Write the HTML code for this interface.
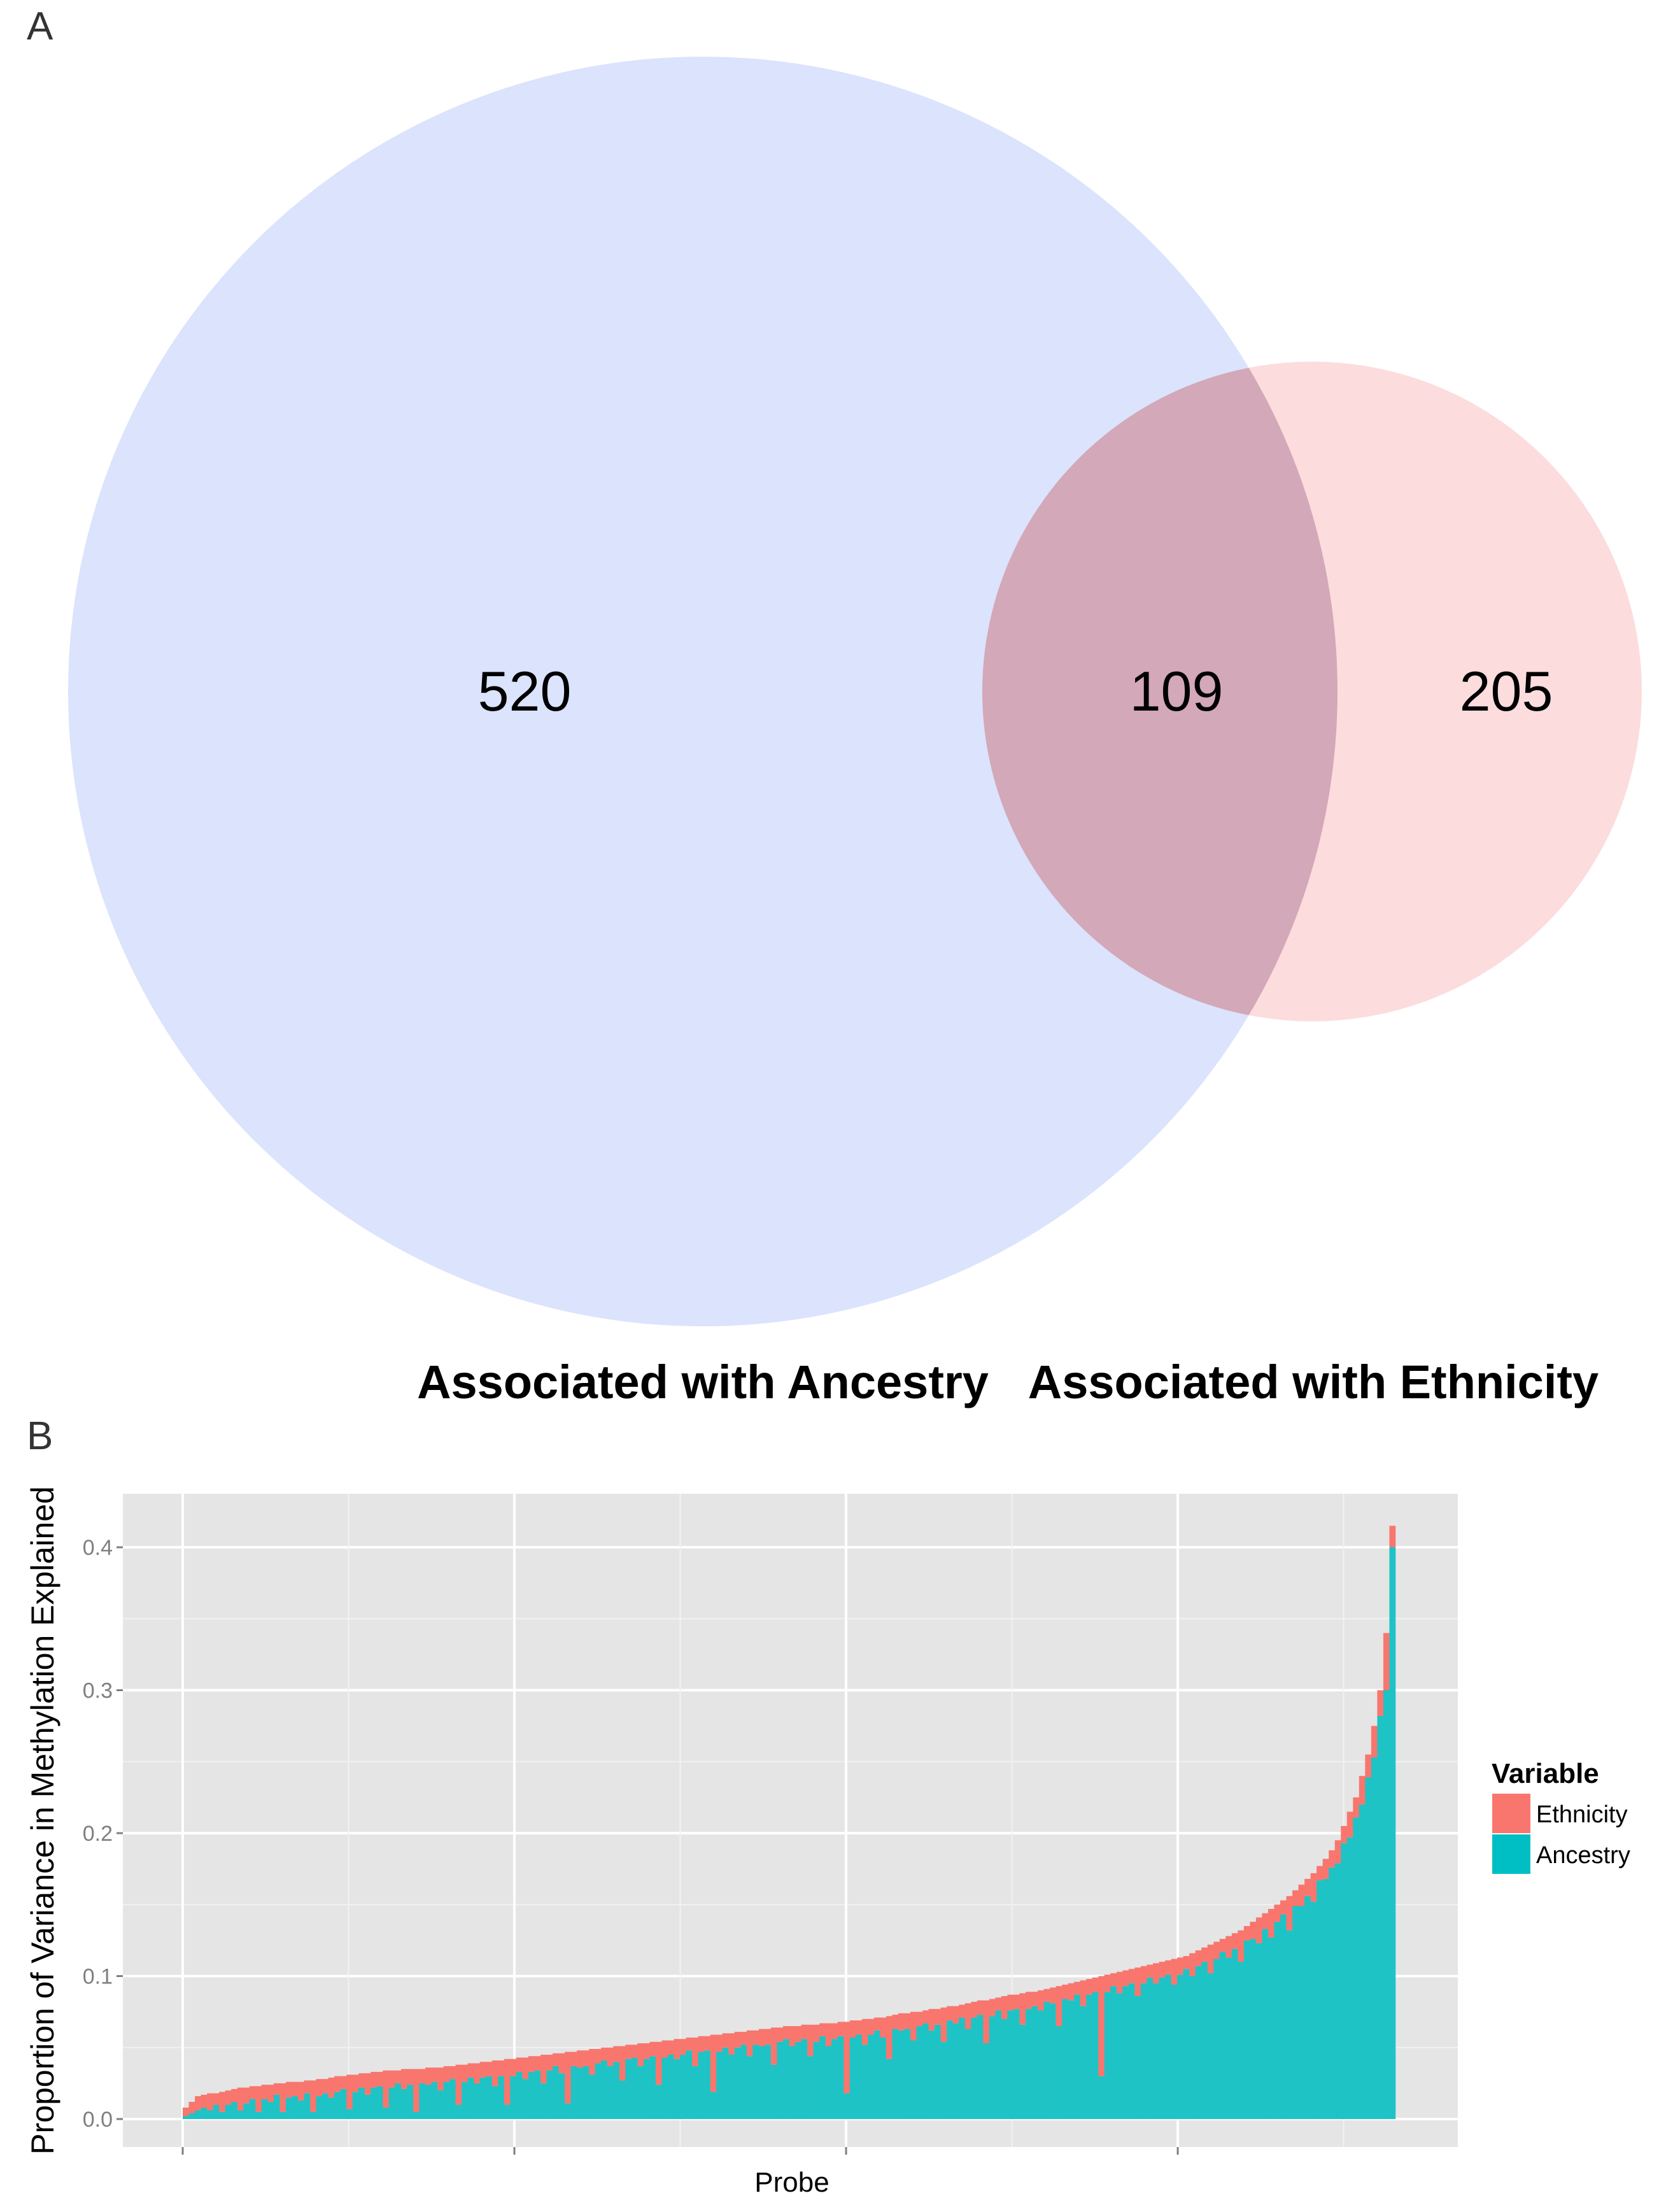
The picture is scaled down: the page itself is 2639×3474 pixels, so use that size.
<!DOCTYPE html>
<html><head><meta charset="utf-8"><style>
html,body{margin:0;padding:0;background:#fff}
svg{display:block}
text{font-family:"Liberation Sans",sans-serif}
</style></head><body>
<svg id="fig" width="2639" height="3474" viewBox="0 0 2639 3474">
<g>
<text x="42" y="62" font-size="62" fill="#333">A</text>
<defs><clipPath id="pinkclip"><circle cx="2061" cy="1086" r="518"/></clipPath></defs>
<circle cx="1104" cy="1086" r="997" fill="#dbe3fd"/>
<circle cx="2061" cy="1086" r="518" fill="#fcdcdd"/>
<circle cx="1104" cy="1086" r="997" fill="#d3a8b8" clip-path="url(#pinkclip)"/>
<text x="824" y="1116" font-size="88" text-anchor="middle" fill="#000">520</text>
<text x="1848" y="1116" font-size="88" text-anchor="middle" fill="#000">109</text>
<text x="2366" y="1116" font-size="88" text-anchor="middle" fill="#000">205</text>
<text x="1104" y="2196" font-size="74" font-weight="bold" text-anchor="middle" fill="#000">Associated with Ancestry</text>
<text x="2063" y="2196" font-size="74" font-weight="bold" text-anchor="middle" fill="#000">Associated with Ethnicity</text>
</g>
<g id="chartB">
<text x="42" y="2276" font-size="62" fill="#333">B</text>
<rect x="193" y="2346" width="2097" height="1026" fill="#e5e5e5"/>
<g id="grid"></g>
<g id="bars"></g>
<g id="axes"></g>
<text x="1244" y="3442" font-size="44" text-anchor="middle" fill="#000">Probe</text>
<text transform="translate(84,2859) rotate(-90)" font-size="50" text-anchor="middle" fill="#000">Proportion of Variance in Methylation Explained</text>
<g>
<text x="2343" y="2800" font-size="44" font-weight="bold" fill="#000">Variable</text>
<rect x="2344" y="2817" width="60" height="62" fill="#F8766D"/>
<text x="2413" y="2862" font-size="38" fill="#000">Ethnicity</text>
<rect x="2344" y="2881" width="60" height="62" fill="#00BFC4"/>
<text x="2413" y="2926" font-size="38" fill="#000">Ancestry</text>
</g>
</g>
</svg>
<script>
const yTicks=[0,0.1,0.2,0.3,0.4];
const yTickLabels=["0.0","0.1","0.2","0.3","0.4"];
const xTickProbes=[0,54.7,109.4,164.1];
const totalVar=[.008,.012,.016,.017,.018,.018,.019,.020,.021,.022,
.022,.023,.023,.024,.024,.025,.025,.026,.026,.026,
.027,.027,.028,.028,.029,.030,.030,.031,.031,.032,
.032,.033,.033,.034,.034,.034,.035,.035,.035,.035,
.036,.036,.036,.037,.037,.038,.038,.039,.039,.040,
.040,.041,.041,.042,.042,.043,.043,.044,.044,.045,
.045,.046,.046,.047,.047,.048,.048,.049,.049,.050,
.050,.051,.051,.052,.052,.053,.053,.054,.054,.055,
.055,.056,.056,.057,.057,.058,.058,.059,.059,.060,
.060,.061,.061,.062,.062,.063,.063,.064,.064,.065,
.065,.065,.066,.066,.066,.067,.067,.067,.068,.068,
.069,.069,.070,.070,.071,.071,.072,.073,.074,.074,
.075,.075,.076,.077,.077,.078,.079,.079,.080,.081,
.082,.083,.083,.084,.085,.086,.087,.087,.088,.089,
.089,.090,.091,.092,.093,.094,.095,.096,.097,.098,
.099,.100,.101,.102,.103,.104,.105,.106,.107,.108,
.109,.110,.111,.112,.113,.114,.116,.118,.120,.122,
.124,.126,.128,.130,.132,.135,.138,.141,.144,.147,
.150,.153,.156,.160,.164,.168,.172,.177,.182,.188,
.195,.205,.215,.225,.240,.255,.275,.300,.340,.415];
const ethnicityVar=[.006,.008,.010,.009,.012,.008,.014,.010,.009,.016,
.011,.009,.018,.010,.012,.008,.020,.011,.010,.013,
.009,.022,.012,.010,.014,.011,.009,.024,.012,.010,
.015,.011,.010,.026,.012,.009,.014,.011,.030,.010,
.012,.010,.016,.011,.009,.028,.012,.010,.014,.011,
.010,.018,.011,.032,.012,.010,.015,.011,.010,.020,
.011,.009,.014,.036,.010,.012,.011,.018,.010,.009,
.013,.011,.024,.010,.009,.016,.011,.010,.030,.012,
.010,.014,.011,.009,.020,.011,.010,.040,.012,.010,
.015,.011,.009,.018,.010,.012,.011,.026,.010,.009,
.014,.011,.010,.022,.012,.009,.016,.011,.010,.050,
.012,.010,.018,.011,.009,.014,.030,.010,.012,.011,
.020,.010,.009,.015,.011,.024,.010,.012,.009,.018,
.011,.010,.030,.012,.009,.016,.011,.010,.022,.012,
.010,.014,.009,.011,.028,.010,.012,.009,.018,.011,
.010,.070,.012,.009,.015,.011,.010,.020,.012,.009,
.014,.011,.010,.018,.012,.009,.016,.011,.010,.020,
.012,.009,.015,.011,.022,.010,.012,.018,.011,.020,
.012,.010,.024,.011,.015,.012,.020,.010,.014,.012,
.016,.012,.018,.014,.020,.016,.022,.018,.040,.015];
const NS='http://www.w3.org/2000/svg';
const px0=193,px1=2290,py0=2346,py1=3372;
const barStart=287,barEnd=2192;
const n=totalVar.length,bw=(barEnd-barStart)/n;
function ys(v){return 3328-v*2245;}
function xs(i){return barStart+bw*i;}
function mk(tag,attrs,parent){const e=document.createElementNS(NS,tag);for(const k in attrs)e.setAttribute(k,attrs[k]);parent.appendChild(e);return e;}
const grid=document.getElementById('grid'),bars=document.getElementById('bars'),axes=document.getElementById('axes');
for(let k=0;k<yTicks.length;k++){
  if(k<yTicks.length-1){const ym=ys((yTicks[k]+yTicks[k+1])/2);
    const m=mk('line',{x1:px0,x2:px1,y1:ym,y2:ym,stroke:'#f2f2f2','stroke-width':2},grid);
    
    }
  const y=ys(yTicks[k]);
  const g=mk('line',{x1:px0,x2:px1,y1:y,y2:y,stroke:'#fff','stroke-width':4},grid);
  
  
  const t=mk('line',{x1:px0-10,x2:px0,y1:y,y2:y,stroke:'#7f7f7f','stroke-width':3},axes);
  
  
  const l=mk('text',{x:px0-16,y:y+12,'font-size':34,'text-anchor':'end',fill:'#7f7f7f'},axes);
  l.textContent=yTickLabels[k];
  
  
}
for(let k=0;k<xTickProbes.length;k++){
  const x=xs(xTickProbes[k]);
  const step=xs(xTickProbes[1])-xs(xTickProbes[0]);
  const xm=x+step/2;
  if(xm<px1){const m=mk('line',{x1:xm,x2:xm,y1:py0,y2:py1,stroke:'#f2f2f2','stroke-width':2},grid);
    
    }
  const g=mk('line',{x1:x,x2:x,y1:py0,y2:py1,stroke:'#fff','stroke-width':4},grid);
  
  
  const t=mk('line',{x1:x,x2:x,y1:py1,y2:py1+12,stroke:'#7f7f7f','stroke-width':3},axes);
  
  
}
for(let i=0;i<n;i++){
  const anc=totalVar[i]-ethnicityVar[i];
  const x=xs(i);
  const a=mk('rect',{x:x,y:ys(anc),width:bw+0.3,height:ys(0)-ys(anc),fill:'#1ec3c5'},bars);
  
  
  const e=mk('rect',{x:x,y:ys(totalVar[i]),width:bw+0.3,height:ys(anc)-ys(totalVar[i]),fill:'#F8766D'},bars);
  
  
}
</script>
</body></html>
